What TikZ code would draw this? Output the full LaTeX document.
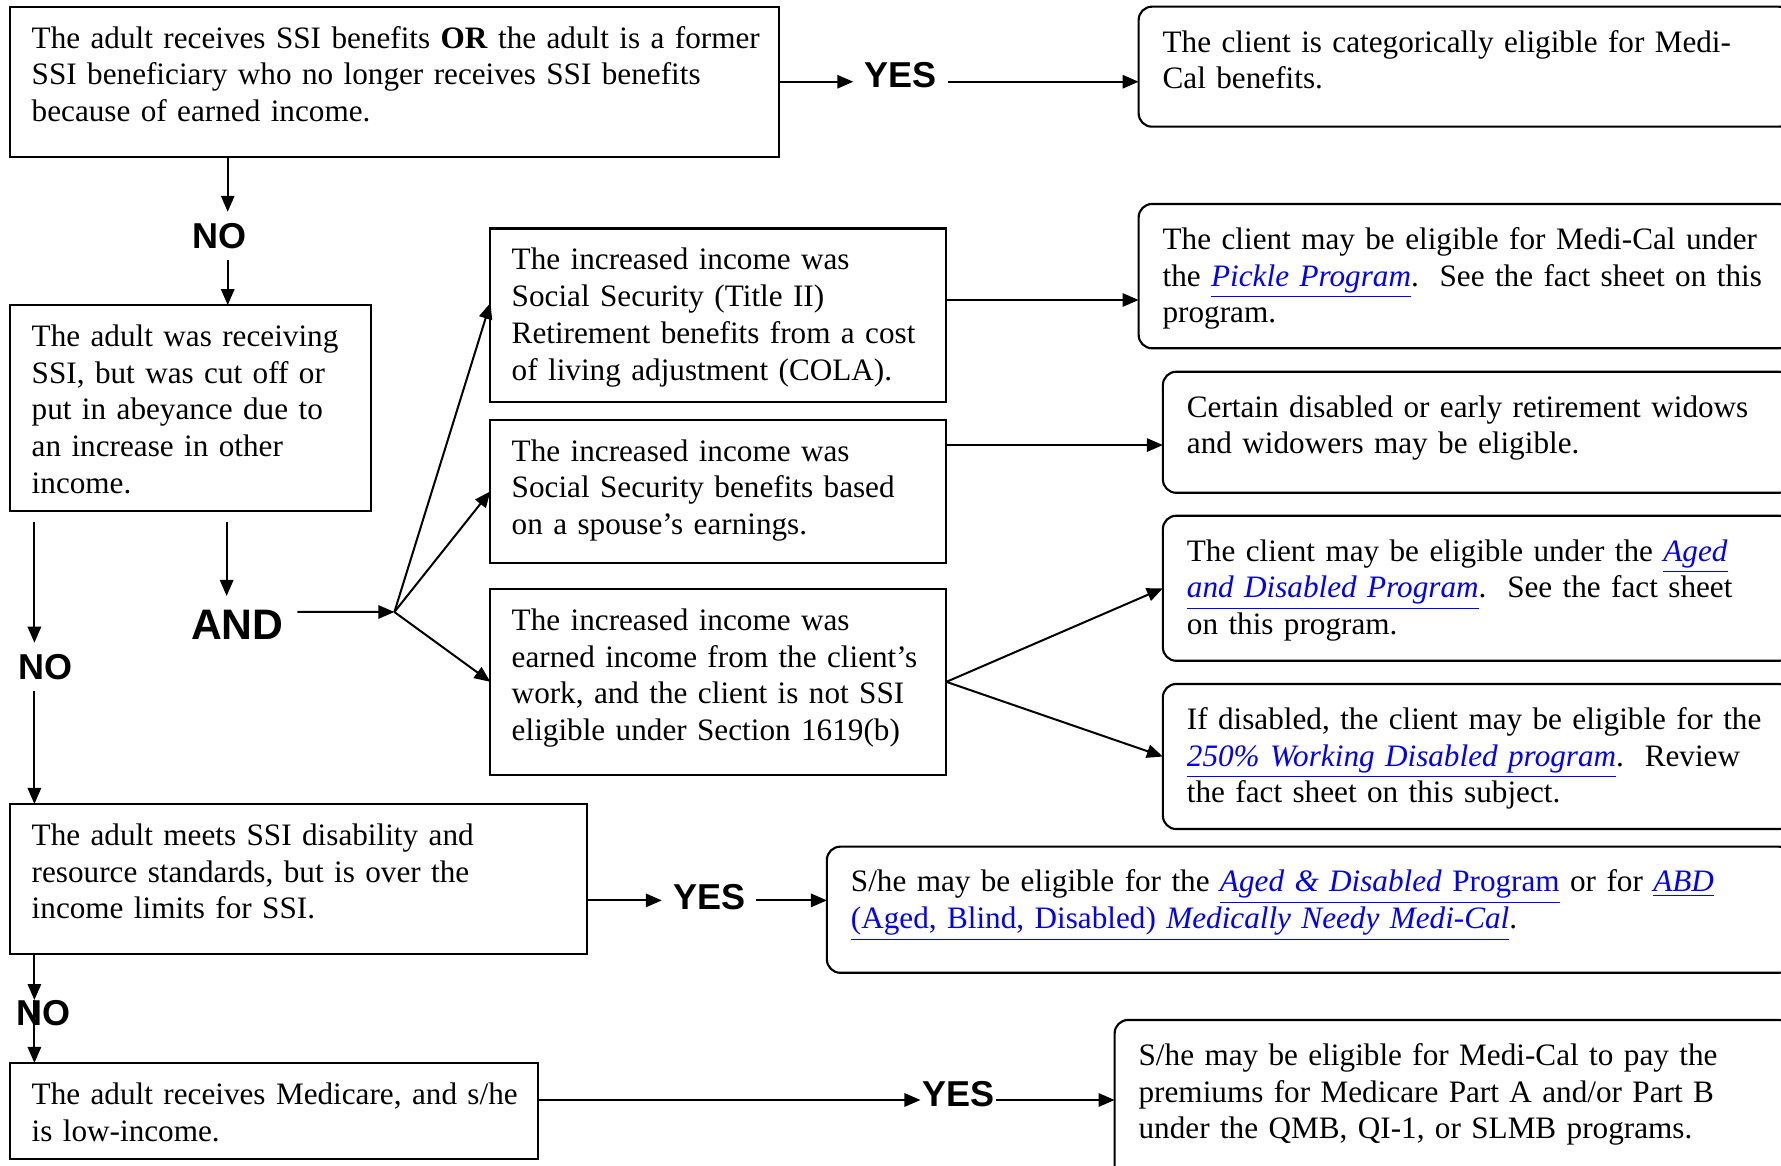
\documentclass[tikz,border=0pt]{standalone}
\usepackage{fontspec}
\setmainfont{Liberation Serif}
\newfontfamily\lblfont{Liberation Sans}
\usetikzlibrary{arrows.meta, positioning}
\definecolor{linkblue}{RGB}{0,0,255}
\newcommand{\weblink}[1]{\textcolor{linkblue}{\underline{#1}}}

\begin{document}
\begin{tikzpicture}[
    rectbox/.style={rectangle, draw=black, line width=0.8pt, outer sep=0pt, anchor=north west, align=left, inner xsep=8pt, inner ysep=6.5pt, text height=9pt, font=\fontsize{11.7pt}{13.8pt}\selectfont, execute at begin node={\rightskip=-40pt plus 1fil}},
    roundbox/.style={rectangle, rounded corners=5pt, draw=black, line width=0.8pt, outer sep=0pt, anchor=north west, align=left, inner xsep=9pt, inner ysep=8pt, text height=9pt, font=\fontsize{11.7pt}{13.8pt}\selectfont, execute at begin node={\rightskip=-40pt plus 1fil}},
    lbl/.style={font=\lblfont\bfseries\fontsize{13.5pt}{16pt}\selectfont, inner sep=4pt},
    andlbl/.style={font=\lblfont\bfseries\fontsize{16pt}{18pt}\selectfont, inner sep=5pt},
    arrow/.style={line width=0.75pt,->,>={Triangle[length=6pt,width=5pt]}}
]
\useasboundingbox (0,0) rectangle (667.9pt,-436.9pt);

% Questions
\node (ssi) [rectbox, text width=272.2pt, text depth=34.3pt] at (3.9pt,-2.5pt) {The adult receives SSI benefits \textbf{OR} the adult is a former\\SSI beneficiary who no longer receives SSI benefits\\because of earned income.};
\node (cut) [rectbox, text width=119.1pt, text depth=55.2pt, below=55.6pt of ssi.south west, anchor=north west] {The adult was receiving\\SSI, but was cut off or\\put in abeyance due to\\an increase in other\\income.};
\node (meets) [rectbox, text width=200.2pt, text depth=34.1pt, below=109.9pt of cut.south west, anchor=north west] {The adult meets SSI disability and\\resource standards, but is over the\\income limits for SSI.};
\node (medicare) [rectbox, text width=182pt, text depth=14pt, below=41pt of meets.south west, anchor=north west] {The adult receives Medicare, and s/he\\is low-income.};

% Kinds of increased income
\node (cola) [rectbox, text width=155pt, text depth=43pt, above right=28.7pt and 44.9pt of cut.north east, anchor=north west] {The increased income was\\Social Security (Title II)\\Retirement benefits from a cost\\of living adjustment (COLA).};
\node (spouse) [rectbox, text width=155pt, text depth=31.6pt, below=6.75pt of cola.south west, anchor=north west] {The increased income was\\Social Security benefits based\\on a spouse’s earnings.};
\node (earned) [rectbox, text width=155pt, text depth=47.7pt, below=9.8pt of spouse.south west, anchor=north west] {The increased income was\\earned income from the client’s\\work, and the client is not SSI\\eligible under Section 1619(b)};

% Outcomes
\node (cat) [roundbox, text width=227pt, text depth=20pt, right=134.9pt of ssi.north east, anchor=north west] {The client is categorically eligible for Medi-\\Cal benefits.};
\node (pickle) [roundbox, text width=227pt, text depth=29.1pt, above right=9.2pt and 72.1pt of cola.north east, anchor=north west] {The client may be eligible for Medi-Cal under\\the \weblink{\textit{Pickle Program}}.\ \ See the fact sheet on this\\program.};
\node (widow) [roundbox, text width=217.9pt, text depth=20.4pt, below right=8.8pt and 9.1pt of pickle.south west, anchor=north west] {Certain disabled or early retirement widows\\and widowers may be eligible.};
\node (aged) [roundbox, text width=217.9pt, text depth=29.4pt, below=8.6pt of widow.south west, anchor=north west] {The client may be eligible under the \weblink{\textit{Aged}}\\\weblink{\textit{and Disabled Program}}.\ \ See the fact sheet\\on this program.};
\node (wd) [roundbox, text width=217.9pt, text depth=29.4pt, below=8.7pt of aged.south west, anchor=north west] {If disabled, the client may be eligible for the\\\weblink{\textit{250\% Working Disabled program}}.\ \ Review\\the fact sheet on this subject.};
\node (abd) [roundbox, text width=343.9pt, text depth=22.3pt, below right=16pt and 90pt of meets.north east, anchor=north west] {S/he may be eligible for the \weblink{\textit{Aged \& Disabled} Program} or for \weblink{\textit{ABD}}\\\weblink{(Aged, Blind, Disabled) \textit{Medically Needy Medi-Cal}}.};
\node (qmb) [roundbox, text width=236pt, text depth=35pt, above right=16.1pt and 216.1pt of medicare.north east, anchor=north west] {S/he may be eligible for Medi-Cal to pay the\\premiums for Medicare Part A and/or Part B\\under the QMB, QI-1, or SLMB programs.};

% Labels
\node (yes1) [lbl, below right=25.6pt and 45.6pt of ssi.north east, anchor=center] {YES};
\node (no1) [lbl, below right=29.6pt and 78.4pt of ssi.south west, anchor=center] {NO};
\node (and1) [andlbl, below right=42.6pt and 85.1pt of cut.south west, anchor=center] {AND};
\node (no2) [lbl, below right=58.4pt and 13.3pt of cut.south west, anchor=center] {NO};
\node (yes2) [lbl, below right=35.1pt and 45.8pt of meets.north east, anchor=center] {YES};
\node (no3) [lbl, inner sep=0pt, below right=22.4pt and 12.4pt of meets.south west, anchor=center] {NO};
\node (yes3) [lbl, inner xsep=0.5pt, below right=11.8pt and 157.5pt of medicare.north east, anchor=center] {YES};
\coordinate (fork) at ([xshift=-36pt,yshift=26.2pt]earned.west);

% Arrows
\draw [arrow] (ssi.east) -- (ssi.east -| yes1.west);
\draw [arrow] (ssi.east -| yes1.east) -- (ssi.east -| cat.west);
\draw [arrow] ([xshift=81.5pt]ssi.south west) -- ([xshift=81.5pt]ssi.south west |- no1.north);
\draw [arrow] ([xshift=81.5pt]ssi.south west |- no1.south) -- ([xshift=81.5pt]ssi.south west |- cut.north);
\draw [arrow] ([xshift=81.1pt,yshift=-4.2pt]cut.south west) -- ([xshift=81.1pt]cut.south west |- and1.north);
\draw [arrow] ([yshift=4.7pt]and1.east) -- (fork);
\draw [arrow] (fork) -- ([yshift=4.6pt]cola.west);
\draw [arrow] (fork) -- (spouse.west);
\draw [arrow] (fork) -- (earned.west);
\draw [arrow] ([yshift=5.7pt]cola.east) -- ([yshift=5.7pt]cola.east -| pickle.west);
\draw [arrow] ([yshift=-4.8pt]widow.west -| spouse.east) -- ([yshift=-4.8pt]widow.west);
\draw [arrow] (earned.east) -- (aged.west);
\draw [arrow] (earned.east) -- (wd.west);
\draw [arrow] ([xshift=9pt,yshift=-4.2pt]cut.south west) -- ([xshift=9pt]cut.south west |- no2.north);
\draw [arrow] ([xshift=9pt]cut.south west |- no2.south) -- ([xshift=9pt]cut.south west |- meets.north);
\draw [arrow] ([yshift=3.5pt]abd.west -| meets.east) -- ([yshift=3.5pt]abd.west -| yes2.west);
\draw [arrow] ([yshift=3.5pt]abd.west -| yes2.east) -- ([yshift=3.5pt]abd.west);
\draw [arrow] ([xshift=9pt]meets.south west) -- ([xshift=9pt]meets.south west |- no3.north);
\draw [arrow] ([xshift=9pt]meets.south west |- no3.north) -- ([xshift=9pt]meets.south west |- medicare.north);
\draw [arrow] (qmb.west -| medicare.east) -- (qmb.west -| yes3.west);
\draw [arrow] (qmb.west -| yes3.east) -- (qmb.west);

\end{tikzpicture}
\end{document}
